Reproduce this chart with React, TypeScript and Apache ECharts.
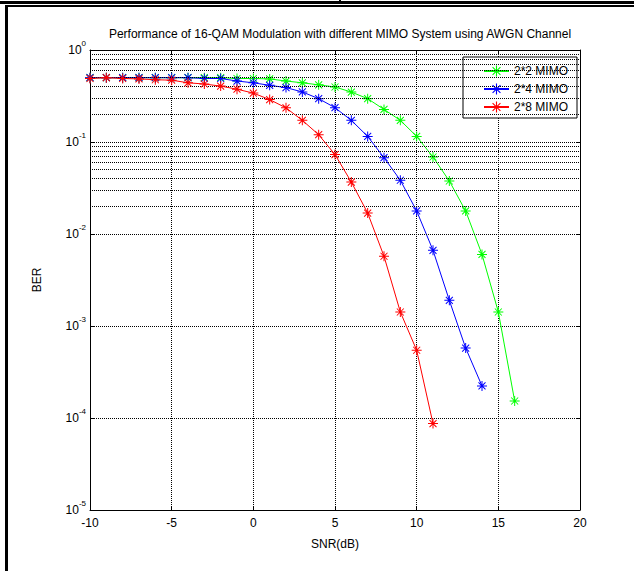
import React, { useEffect, useRef } from 'react';
import * as echarts from 'echarts';

const titleText = 'Performance of 16-QAM Modulation with different MIMO System using AWGN Channel';
const xName = 'SNR(dB)';
const yName = 'BER';

const seriesNames = ['2*2 MIMO', '2*4 MIMO', '2*8 MIMO'];
const seriesColors = ['#00ff00', '#0000ff', '#ff0000'];

const snr22 = [-10, -9, -8, -7, -6, -5, -4, -3, -2, -1, 0, 1, 2, 3, 4, 5, 6, 7, 8, 9, 10, 11, 12, 13, 14, 15, 16];
const ber22 = [0.5, 0.5, 0.5, 0.5, 0.5, 0.5, 0.5, 0.5, 0.5, 0.49, 0.49, 0.485, 0.46, 0.44, 0.418, 0.396, 0.349, 0.296, 0.226, 0.172, 0.115, 0.0687, 0.0377, 0.0178, 0.006, 0.00142, 0.000153];

const snr24 = [-10, -9, -8, -7, -6, -5, -4, -3, -2, -1, 0, 1, 2, 3, 4, 5, 6, 7, 8, 9, 10, 11, 12, 13, 14];
const ber24 = [0.5, 0.5, 0.5, 0.5, 0.5, 0.5, 0.5, 0.49, 0.49, 0.46, 0.44, 0.413, 0.39, 0.35, 0.296, 0.236, 0.172, 0.115, 0.0676, 0.0384, 0.0178, 0.00665, 0.0019, 0.000576, 0.000223];

const snr28 = [-10, -9, -8, -7, -6, -5, -4, -3, -2, -1, 0, 1, 2, 3, 4, 5, 6, 7, 8, 9, 10, 11];
const ber28 = [0.49, 0.5, 0.49, 0.485, 0.475, 0.47, 0.44, 0.427, 0.405, 0.375, 0.34, 0.289, 0.235, 0.172, 0.12, 0.073, 0.0367, 0.0169, 0.00573, 0.00142, 0.000545, 0.000087];

const xMin = -10;
const xMax = 20;
const xInterval = 5;
const yMin = 1e-5;
const yMax = 1;
const yMinorLines = [
  2e-5, 3e-5, 4e-5, 5e-5, 6e-5, 7e-5, 8e-5, 9e-5,
  2e-4, 3e-4, 4e-4, 5e-4, 6e-4, 7e-4, 8e-4, 9e-4,
  2e-3, 3e-3, 4e-3, 5e-3, 6e-3, 7e-3, 8e-3, 9e-3,
  2e-2, 3e-2, 4e-2, 5e-2, 6e-2, 7e-2, 8e-2, 9e-2,
  2e-1, 3e-1, 4e-1, 5e-1, 6e-1, 7e-1, 8e-1, 9e-1,
];

const FONT = '"Liberation Sans", Arial, sans-serif';

const STAR =
  'path://M-1,-10 L1,-10 L1,10 L-1,10 Z ' +
  'M-10,-1 L10,-1 L10,1 L-10,1 Z ' +
  'M-7.7,-6.3 L-6.3,-7.7 L7.7,6.3 L6.3,7.7 Z ' +
  'M6.3,-7.7 L7.7,-6.3 L-6.3,7.7 L-7.7,6.3 Z';

const gridLine = { color: '#000', type: [1, 1] as number[], width: 1 };

export default function App() {
  const ref = useRef<HTMLDivElement>(null);

  useEffect(() => {
    if (!ref.current) return;
    const chart = echarts.init(ref.current, undefined, { renderer: 'svg' });

    const xs = [snr22, snr24, snr28];
    const ys = [ber22, ber24, ber28];

    const dataSeries = seriesNames.map((name, i) => ({
      name,
      type: 'line',
      data: xs[i].map((x, j) => [x, ys[i][j]]),
      symbol: STAR,
      symbolSize: 10,
      showSymbol: true,
      itemStyle: { color: seriesColors[i] },
      lineStyle: { color: seriesColors[i], width: 1 },
      z: 3 + i,
    }));

    const option: any = {
      animation: false,
      backgroundColor: '#fff',
      title: {
        text: titleText,
        left: 335,
        textAlign: 'center',
        top: 23,
        textStyle: { fontFamily: FONT, fontSize: 12, fontWeight: 'normal', color: '#000' },
      },
      legend: {
        data: seriesNames,
        orient: 'vertical',
        left: 463,
        top: 57,
        backgroundColor: '#fff',
        borderColor: '#000',
        borderWidth: 1,
        borderRadius: 0,
        padding: [8, 9, 5, 20],
        itemWidth: 25,
        itemHeight: 14,
        itemGap: 6,
        textStyle: { fontFamily: FONT, fontSize: 12, color: '#000' },
      },
      grid: { left: 90, right: 54, top: 50, bottom: 61, containLabel: false },
      xAxis: [
        {
          type: 'value',
          min: xMin,
          max: xMax,
          interval: xInterval,
          name: xName,
          nameLocation: 'middle',
          nameGap: 28,
          nameTextStyle: { fontFamily: FONT, fontSize: 12, color: '#000' },
          axisLine: { onZero: false, lineStyle: { color: '#000', width: 1 } },
          axisTick: { inside: true, length: 4, lineStyle: { color: '#000' } },
          axisLabel: { fontFamily: FONT, fontSize: 12, color: '#000', margin: 7 },
          splitLine: { show: true, lineStyle: gridLine },
        },
        {
          type: 'value',
          position: 'top',
          min: xMin,
          max: xMax,
          interval: xInterval,
          axisLine: { show: true, onZero: false, lineStyle: { color: '#000', width: 1 } },
          axisTick: { inside: true, length: 4, lineStyle: { color: '#000' } },
          axisLabel: { show: false },
          splitLine: { show: false },
        },
      ],
      yAxis: [
        {
          type: 'log',
          logBase: 10,
          min: yMin,
          max: yMax,
          name: yName,
          nameLocation: 'middle',
          nameGap: 47,
          nameTextStyle: { fontFamily: FONT, fontSize: 12, color: '#000' },
          axisLine: { show: true, onZero: false, lineStyle: { color: '#000', width: 1 } },
          axisTick: { show: true, inside: true, length: 4, lineStyle: { color: '#000' } },
          axisLabel: {
            margin: 4,
            formatter: (v: number) => `{b|10}{e|${Math.round(Math.log10(v))}}`,
            rich: {
              b: { fontFamily: FONT, fontSize: 12, color: '#000' },
              e: { fontFamily: FONT, fontSize: 8, color: '#000', padding: [0, 0, 14, 0] },
            },
          },
          splitLine: { show: true, lineStyle: gridLine },
        },
        {
          type: 'log',
          logBase: 10,
          position: 'right',
          min: yMin,
          max: yMax,
          axisLine: { show: true, onZero: false, lineStyle: { color: '#000', width: 1 } },
          axisTick: { show: true, inside: true, length: 4, lineStyle: { color: '#000' } },
          axisLabel: { show: false },
          splitLine: { show: false },
        },
      ],
      series: [
        {
          name: 'minor-grid',
          type: 'line',
          data: [],
          silent: true,
          z: 1,
          markLine: {
            silent: true,
            symbol: ['none', 'none'],
            label: { show: false },
            lineStyle: gridLine,
            emphasis: { disabled: true },
            data: yMinorLines.map((v) => ({ yAxis: v })),
          },
        },
        ...dataSeries,
      ],
      graphic: [
        { type: 'rect', left: 0, top: 1, shape: { width: 634, height: 3 }, style: { fill: '#000' } },
        { type: 'rect', left: 5, top: 5, shape: { width: 629, height: 2 }, style: { fill: '#000' } },
        { type: 'rect', left: 5, top: 5, shape: { width: 3, height: 566 }, style: { fill: '#000' } },
        { type: 'rect', left: 339, top: 0, shape: { width: 2, height: 3 }, style: { fill: '#000' } },
      ],
    };

    chart.setOption(option);
    return () => chart.dispose();
  }, []);

  return (
    <div
      ref={ref}
      style={{ position: 'absolute', left: 0, top: 0, width: 634, height: 571, background: '#fff' }}
    />
  );
}
